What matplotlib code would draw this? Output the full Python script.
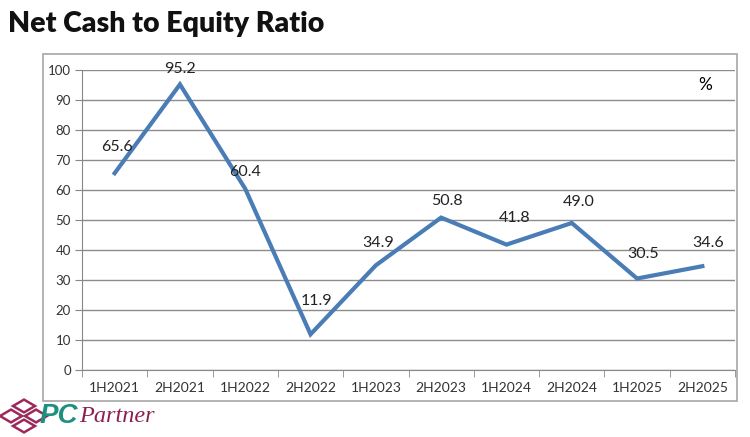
import matplotlib.pyplot as plt
from matplotlib.patches import Rectangle, RegularPolygon

# data
periods = ['1H2021', '2H2021', '1H2022', '2H2022', '1H2023',
           '2H2023', '1H2024', '2H2024', '1H2025', '2H2025']
ratio = [65.6, 95.2, 60.4, 11.9, 34.9, 50.8, 41.8, 49.0, 30.5, 34.6]
# label offsets in points (dx, dy), placed by hand like in the source slide
label_offsets = [(2, 19), (0, 11), (0, 12), (4, 24), (2, 16),
                 (4, 12), (6, 19), (5, 15), (4, 18), (4, 17)]

plt.rcParams['font.family'] = ['Lato', 'DejaVu Sans']

fig = plt.figure(figsize=(7.5, 4.37), dpi=100)
W, H = 750, 437

# outer chart frame
fig.patches.append(Rectangle((43 / W, 1 - 401 / H), (737 - 43) / W, (401 - 54) / H,
                             transform=fig.transFigure, fill=False,
                             edgecolor='#a6a6a6', linewidth=1.2))

ax = fig.add_axes([82 / W, 1 - 370 / H, (735 - 82) / W, 300 / H])
x = list(range(len(periods)))
ax.plot(x, ratio, color='#4a7cb5', linewidth=3, solid_joinstyle='miter')

for xi, v, (dx, dy) in zip(x, ratio, label_offsets):
    ax.annotate(f'{v:.1f}', (xi, v), xytext=(dx, dy), textcoords='offset points',
                ha='center', va='center', fontsize=11.5, color='#222222')

ax.set_xlim(-0.5, len(periods) - 0.5)
ax.set_ylim(0, 100)
ax.set_yticks(range(0, 101, 10))
ax.set_xticks(x)
ax.set_xticklabels(periods)
ax.set_xticks([i - 0.5 for i in range(len(periods) + 1)], minor=True)
ax.tick_params(axis='x', which='major', length=0, pad=9, labelsize=10, colors='#333333')
ax.tick_params(axis='x', which='minor', length=5, color='#888888', direction='out')
ax.tick_params(axis='y', length=5, color='#888888', labelsize=9.5, colors='#333333', pad=3)
ax.grid(axis='y', color='#8c8c8c', linewidth=1)
ax.set_axisbelow(True)
for side in ['top', 'right']:
    ax.spines[side].set_visible(False)
ax.spines['left'].set_color('#888888')
ax.spines['bottom'].set_color('#888888')

ax.text(0.955, 0.95, '%', transform=ax.transAxes, fontsize=12.5, ha='center', va='center')

# title
fig.text(8 / W, 1 - 24 / H, 'Net Cash to Equity Ratio', fontsize=20.5, fontweight='heavy',
         ha='left', va='center', color='#111111')

# company logo (approximate)
for cx, cy in [(11, 416), (24, 406), (24, 426), (36, 416)]:
    fig.patches.append(RegularPolygon((cx / W, 1 - cy / H), 4, radius=11 / W,
                                      transform=fig.transFigure, fill=False,
                                      edgecolor='#9b2a5a', linewidth=1.8))
fig.text(40 / W, 1 - 416 / H, 'PC', fontsize=20, fontweight='bold', style='italic',
         color='#1f8f80', ha='left', va='center', family='Liberation Sans')
fig.text(79 / W, 1 - 416 / H, 'Partner', fontsize=17.5, style='italic',
         color='#8c1f4f', ha='left', va='center', family='Liberation Serif')

fig.savefig('out.png', dpi=100)
